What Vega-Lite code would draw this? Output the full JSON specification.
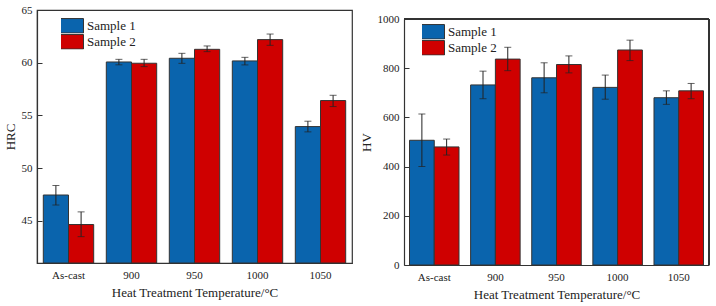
{
  "$schema": "https://vega.github.io/schema/vega-lite/v6.json",
  "padding": {"left": 3, "top": 3, "right": 5, "bottom": 4},
  "spacing": 7,
  "config": {
    "font": "Liberation Serif",
    "view": {"stroke": "#333333", "strokeWidth": 1.2},
    "axis": {"labelFont": "Liberation Serif", "titleFont": "Liberation Serif", "labelColor": "#222222", "titleColor": "#222222", "domainColor": "#333333", "domainWidth": 1.2, "tickColor": "#333333", "grid": false, "titleFontWeight": "normal", "labelFontWeight": "normal", "labelFontSize": 11, "titleFontSize": 13},
    "axisY": {"tickSize": -5, "labelPadding": 10, "titlePadding": 4},
    "axisX": {"ticks": false, "labelPadding": 6, "titlePadding": 6, "labelAngle": 0},
    "legend": {"labelFont": "Liberation Serif", "labelFontSize": 13, "labelColor": "#222222", "labelFontWeight": "normal"}
  },
  "datasets": {
    "hrc": [
      {"temp": "As-cast", "sample": "Sample 1", "value": 47.45, "lo": 46.5, "hi": 48.35},
      {"temp": "As-cast", "sample": "Sample 2", "value": 44.65, "lo": 43.5, "hi": 45.85},
      {"temp": "900", "sample": "Sample 1", "value": 60.07, "lo": 59.8, "hi": 60.32},
      {"temp": "900", "sample": "Sample 2", "value": 59.95, "lo": 59.63, "hi": 60.32},
      {"temp": "950", "sample": "Sample 1", "value": 60.42, "lo": 59.94, "hi": 60.89},
      {"temp": "950", "sample": "Sample 2", "value": 61.27, "lo": 61.05, "hi": 61.59},
      {"temp": "1000", "sample": "Sample 1", "value": 60.17, "lo": 59.79, "hi": 60.51},
      {"temp": "1000", "sample": "Sample 2", "value": 62.19, "lo": 61.65, "hi": 62.72},
      {"temp": "1050", "sample": "Sample 1", "value": 53.94, "lo": 53.44, "hi": 54.45},
      {"temp": "1050", "sample": "Sample 2", "value": 56.41, "lo": 55.84, "hi": 56.91}
    ],
    "hv": [
      {"temp": "As-cast", "sample": "Sample 1", "value": 507, "lo": 400, "hi": 614},
      {"temp": "As-cast", "sample": "Sample 2", "value": 480, "lo": 447, "hi": 512},
      {"temp": "900", "sample": "Sample 1", "value": 732, "lo": 676, "hi": 788},
      {"temp": "900", "sample": "Sample 2", "value": 837, "lo": 790, "hi": 885},
      {"temp": "950", "sample": "Sample 1", "value": 761, "lo": 700, "hi": 822},
      {"temp": "950", "sample": "Sample 2", "value": 815, "lo": 781, "hi": 850},
      {"temp": "1000", "sample": "Sample 1", "value": 722, "lo": 674, "hi": 772},
      {"temp": "1000", "sample": "Sample 2", "value": 874, "lo": 831, "hi": 914},
      {"temp": "1050", "sample": "Sample 1", "value": 680, "lo": 653, "hi": 708},
      {"temp": "1050", "sample": "Sample 2", "value": 708, "lo": 676, "hi": 738}
    ]
  },
  "resolve": {"scale": {"x": "independent", "y": "independent", "xOffset": "independent", "color": "independent"}, "legend": {"color": "independent"}},
  "hconcat": [
    {
      "width": 315,
      "height": 253,
      "data": {"name": "hrc"},
      "encoding": {
        "x": {"field": "temp", "type": "nominal", "sort": ["As-cast", "900", "950", "1000", "1050"], "scale": {"paddingInner": 0.2, "paddingOuter": 0.1}, "title": "Heat Treatment Temperature/°C", "axis": {"labelFont": "Liberation Serif"}},
        "xOffset": {"field": "sample", "type": "nominal", "scale": {"paddingInner": 0, "paddingOuter": 0}}
      },
      "layer": [
        {
          "mark": {"type": "bar", "stroke": "#333333", "strokeWidth": 1},
          "encoding": {
            "y": {"field": "value", "type": "quantitative", "title": "HRC", "scale": {"domain": [41, 65], "nice": false, "zero": false}, "axis": {"values": [45, 50, 55, 60, 65], "labelFont": "Liberation Serif"}},
            "y2": {"datum": 41},
            "color": {"field": "sample", "type": "nominal", "scale": {"domain": ["Sample 1", "Sample 2"], "range": ["#0a64ad", "#cf0000"]},
              "legend": {"orient": "none", "legendX": 24, "legendY": 8, "title": null, "labelFont": "Liberation Serif", "symbolType": "M-2,-1H2V1H-2Z", "symbolSize": 210, "symbolStrokeColor": "#333333", "symbolStrokeWidth": 1, "symbolOpacity": 1, "labelOffset": 10, "rowPadding": 0, "clipHeight": 15.6}}
          }
        },
        {
          "mark": {"type": "rule", "color": "#222222", "strokeWidth": 1},
          "encoding": {"y": {"field": "lo", "type": "quantitative", "title": "HRC"}, "y2": {"field": "hi"}}
        },
        {
          "mark": {"type": "tick", "color": "#222222", "size": 7, "thickness": 1},
          "encoding": {"y": {"field": "lo", "type": "quantitative", "title": "HRC"}}
        },
        {
          "mark": {"type": "tick", "color": "#222222", "size": 7, "thickness": 1},
          "encoding": {"y": {"field": "hi", "type": "quantitative", "title": "HRC"}}
        }
      ]
    },
    {
      "width": 305,
      "height": 255,
      "view": {"stroke": null},
      "data": {"name": "hv"},
      "resolve": {"scale": {"x": "independent"}, "axis": {"x": "independent"}},
      "layer": [
        {
          "encoding": {
            "x": {"field": "temp", "type": "nominal", "sort": ["As-cast", "900", "950", "1000", "1050"], "scale": {"paddingInner": 0.19, "paddingOuter": 0.09}, "title": "Heat Treatment Temperature/°C", "axis": {"labelFont": "Liberation Serif"}},
            "xOffset": {"field": "sample", "type": "nominal", "scale": {"paddingInner": 0, "paddingOuter": 0}}
          },
          "layer": [
            {
              "mark": {"type": "bar", "stroke": "#333333", "strokeWidth": 1},
              "encoding": {
                "y": {"field": "value", "type": "quantitative", "title": "HV", "scale": {"domain": [0, 1000], "nice": false, "range": [255, 9]}, "axis": {"values": [0, 200, 400, 600, 800, 1000], "format": "d", "labelFont": "Liberation Serif"}},
                "color": {"field": "sample", "type": "nominal", "scale": {"domain": ["Sample 1", "Sample 2"], "range": ["#0a64ad", "#cf0000"]},
                  "legend": {"orient": "none", "legendX": 18, "legendY": 14, "title": null, "labelFont": "Liberation Serif", "symbolType": "M-2,-1H2V1H-2Z", "symbolSize": 210, "symbolStrokeColor": "#333333", "symbolStrokeWidth": 1, "symbolOpacity": 1, "labelOffset": 10, "rowPadding": 0, "clipHeight": 15.6}}
              }
            },
            {
              "mark": {"type": "rule", "color": "#222222", "strokeWidth": 1},
              "encoding": {"y": {"field": "lo", "type": "quantitative", "title": "HV"}, "y2": {"field": "hi"}}
            },
            {
              "mark": {"type": "tick", "color": "#222222", "size": 7, "thickness": 1},
              "encoding": {"y": {"field": "lo", "type": "quantitative", "title": "HV"}}
            },
            {
              "mark": {"type": "tick", "color": "#222222", "size": 7, "thickness": 1},
              "encoding": {"y": {"field": "hi", "type": "quantitative", "title": "HV"}}
            }
          ]
        },
        {
          "mark": {"type": "rule", "color": "#333333", "strokeWidth": 1.2},
          "encoding": {"y": {"datum": 1000, "type": "quantitative", "title": "HV"}}
        },
        {
          "mark": {"type": "rule", "color": "#333333", "strokeWidth": 1.2},
          "encoding": {
            "x": {"datum": 1, "type": "quantitative", "scale": {"domain": [0, 1]}, "axis": null},
            "y": {"datum": 0, "type": "quantitative", "title": "HV"},
            "y2": {"datum": 1000}
          }
        }
      ]
    }
  ]
}
